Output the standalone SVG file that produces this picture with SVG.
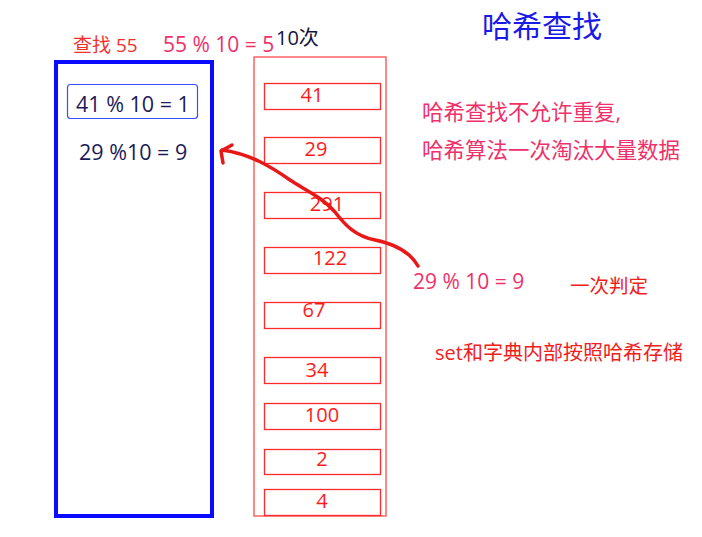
<svg xmlns="http://www.w3.org/2000/svg" width="702" height="537" viewBox="0 0 702 537">
<style>
text{font-family:"Open Sans","Noto Sans CJK SC",sans-serif}
.slot{fill:none;stroke:#ff2a2a;stroke-width:1.3}
.sv{fill:#ff1a1a;font-size:20px;text-anchor:middle}
.navy{fill:#1a1a5a;font-size:21.5px}
.pink{fill:#f0306a}
.red{fill:#f02020}
</style>
<rect width="702" height="537" fill="#fff"/>
<g id="title"><text x="482" y="37" font-size="30" fill="#1a1ae6">哈希查找</text></g>
<g id="labels-top">
<text x="73" y="52" font-size="19" fill="#f0302a">查找 55</text>
<text x="163" y="52" font-size="21" class="pink">55 % 10 = 5</text>
<text x="276" y="45" font-size="20" fill="#14143c">10次</text>
</g>
<g id="hash-table">
<rect x="56" y="62" width="156" height="454" fill="none" stroke="#0a0aff" stroke-width="4"/>
<rect x="67.5" y="84.5" width="130" height="34" rx="3" fill="none" stroke="#3a4cff" stroke-width="1.2"/>
<text x="76" y="112" class="navy">41 % 10  = 1</text>
<text x="79" y="160" class="navy">29 %10 = 9</text>
</g>
<g id="data-list">
<rect x="254" y="57" width="132" height="459" fill="none" stroke="#ff4a4a" stroke-width="1.3"/>
<rect class="slot" x="264.5" y="83.5" width="116" height="26"/><text class="sv" x="312" y="102">41</text>
<rect class="slot" x="264.5" y="137.5" width="116" height="26"/><text class="sv" x="316" y="156">29</text>
<rect class="slot" x="264.5" y="192.5" width="116" height="26"/><text class="sv" x="327" y="211">291</text>
<rect class="slot" x="264.5" y="247.5" width="116" height="26"/><text class="sv" x="330" y="265">122</text>
<rect class="slot" x="264.5" y="302.5" width="116" height="26"/><text class="sv" x="314" y="317">67</text>
<rect class="slot" x="264.5" y="357.5" width="116" height="26"/><text class="sv" x="317" y="377">34</text>
<rect class="slot" x="264.5" y="403.5" width="116" height="26"/><text class="sv" x="322" y="422">100</text>
<rect class="slot" x="264.5" y="449.5" width="116" height="25"/><text class="sv" x="322" y="466">2</text>
<rect class="slot" x="264.5" y="489.5" width="116" height="26"/><text class="sv" x="322" y="508">4</text>
</g>
<g id="connectors">
<path d="M418,266 C410,252 395,244 375,240 C355,236 345,225 335,212 C322,197 305,190 290,180 C270,166 250,154 222,150" fill="none" stroke="#e81818" stroke-width="3.5" stroke-linecap="round"/>
<path d="M232,145 L221,151 L223,163" fill="none" stroke="#e81818" stroke-width="3.5" stroke-linecap="round" stroke-linejoin="round"/>
</g>
<g id="notes">
<text x="422" y="120" font-size="21.5" class="pink">哈希查找不允许重复,</text>
<text x="422" y="158" font-size="21.5" class="pink">哈希算法一次淘汰大量数据</text>
<text x="413" y="289" font-size="21" class="pink">29 % 10 = 9</text>
<text x="570" y="293" font-size="19.5" class="red">一次判定</text>
<text x="435" y="360" font-size="20" class="red">set和字典内部按照哈希存储</text>
</g>
</svg>
